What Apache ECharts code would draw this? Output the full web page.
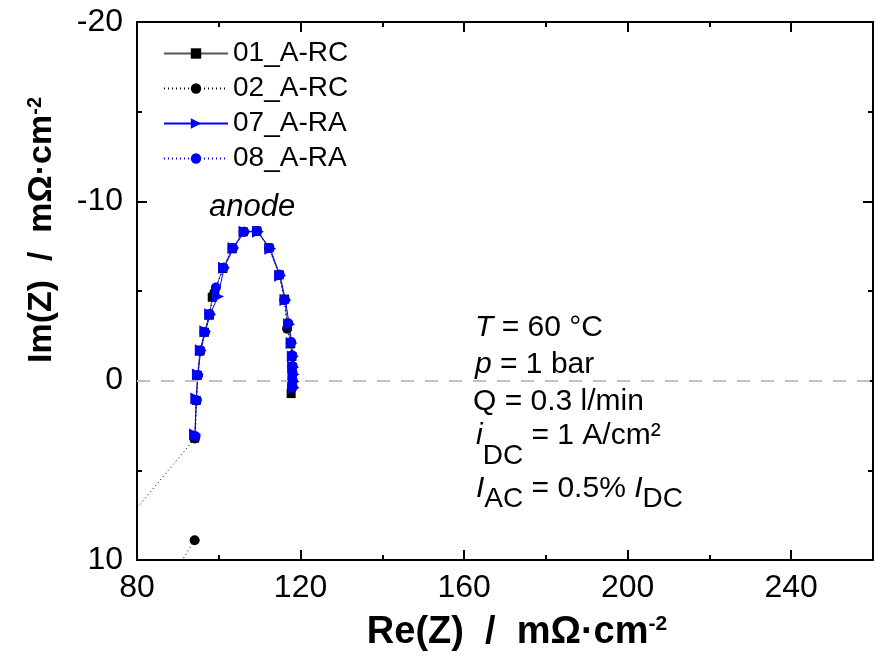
<!DOCTYPE html>
<html>
<head>
<meta charset="utf-8">
<script src="https://cdn.jsdelivr.net/npm/echarts@6/dist/echarts.min.js"></script>
<style>
  html, body { margin: 0; padding: 0; background: #fff; }
  #chart { width: 876px; height: 657px; }
</style>
</head>
<body>
<div id="chart"></div>
<script>
// Nyquist plot of anode impedance spectra (Re vs Im, Im axis inverted)
const FONT = '"Liberation Sans", Arial, Helvetica, sans-serif';

const seriesNames = ['01_A-RC', '02_A-RC', '07_A-RA', '08_A-RA'];

// 01_A-RC
const re01 = [94.1, 94.5, 94.8, 95.4, 96.5, 97.7, 98.4, 101.0, 103.3, 106.0, 109.3, 112.3, 114.8, 116.1, 116.8, 117.6, 117.9, 118.0, 118.0, 117.9, 117.7];
const im01 = [3.2, 1.1, -0.3, -1.65, -2.7, -3.65, -4.65, -6.25, -7.35, -8.3, -8.35, -7.4, -5.9, -4.55, -3.05, -2.05, -1.35, -0.75, -0.3, 0.2, 0.72];

// 02_A-RC (first points lie outside the visible range)
const re02 = [94.1, 76.0, 60.0, 94.15, 94.5, 94.9, 95.5, 96.5, 97.7, 98.9, 101.1, 103.4, 106.1, 109.3, 112.3, 114.8, 116.0, 116.7, 117.6, 117.9, 118.0, 118.0, 117.9];
const im02 = [8.9, 15.5, 12.6, 3.22, 1.1, -0.3, -1.65, -2.7, -3.7, -4.9, -6.3, -7.4, -8.3, -8.35, -7.4, -5.9, -4.5, -2.9, -2.1, -1.4, -0.8, 0.0, 0.4];

// 07_A-RA
const re07 = [94.2, 94.5, 94.9, 95.6, 96.7, 97.9, 99.8, 101.3, 103.6, 106.3, 109.6, 112.6, 115.0, 116.3, 117.2, 117.8, 118.1, 118.2, 118.3, 118.3, 118.3];
const im07 = [3.0, 1.0, -0.35, -1.7, -2.75, -3.7, -4.7, -6.3, -7.4, -8.3, -8.3, -7.35, -5.85, -4.5, -3.15, -2.1, -1.35, -0.75, -0.35, 0.05, 0.4];

// 08_A-RA
const re08 = [94.3, 94.6, 94.9, 95.5, 96.6, 97.8, 99.3, 101.2, 103.5, 106.2, 109.4, 112.4, 114.9, 116.2, 117.0, 117.7, 118.0, 118.05, 118.1, 118.1, 118.1];
const im08 = [3.1, 1.1, -0.3, -1.7, -2.7, -3.7, -5.2, -6.3, -7.4, -8.3, -8.35, -7.4, -5.9, -4.5, -3.2, -2.15, -1.4, -0.8, -0.4, 0.0, 0.35];

// axis ranges and tick steps
const xRange = [80, 260];
const xStep = 40;
const yRange = [-20, 10];
const yStep = 10;

const zip = (xs, ys) => xs.map((x, i) => [x, ys[i]]);

const chart = echarts.init(document.getElementById('chart'), null, { renderer: 'canvas' });

const axisLine = { show: true, onZero: false, lineStyle: { color: '#000', width: 2 } };
const axisTick = { show: true, inside: true, length: 10, lineStyle: { color: '#000', width: 2 } };
const minorTick = { show: true, splitNumber: 2, length: 5, lineStyle: { color: '#000', width: 2 } };

// text block with italic symbols and subscripts, laid out run by run
const ctx = document.createElement('canvas').getContext('2d');
function textLine(x, y, parts) {
  const els = [];
  let cx = x;
  parts.forEach(p => {
    const size = p.sub ? 28 : 30;
    const fs = p.it ? 'italic' : 'normal';
    ctx.font = fs + ' ' + size + 'px ' + FONT;
    els.push({
      type: 'text', x: cx, y: y + (p.dy || 0), silent: true,
      style: { text: p.t, fontSize: size, fontStyle: fs, fontFamily: FONT, fill: '#000', verticalAlign: 'middle', align: 'left' }
    });
    cx += ctx.measureText(p.t).width;
  });
  return els;
}

const conditions = [].concat(
  textLine(475, 328, [{ t: 'T', it: true }, { t: ' = 60 °C' }]),
  textLine(475, 365, [{ t: 'p', it: true }, { t: ' = 1 bar' }]),
  textLine(473, 402, [{ t: 'Q = 0.3 l/min' }]),
  textLine(476, 436, [{ t: 'i', it: true }, { t: 'DC', sub: true, dy: 20 }, { t: ' = 1 A/cm²' }]),
  textLine(476, 489, [{ t: 'I', it: true }, { t: 'AC', sub: true, dy: 10 }, { t: ' = 0.5% ' }, { t: 'I', it: true }, { t: 'DC', sub: true, dy: 10 }])
);

const option = {
  animation: false,
  backgroundColor: '#fff',
  grid: { left: 137, right: 3, top: 22, bottom: 95, containLabel: false },
  legend: {
    orient: 'vertical', left: 158, top: 34,
    itemWidth: 64, itemHeight: 13, itemGap: 6,
    data: seriesNames,
    textStyle: { fontFamily: FONT, fontSize: 28, lineHeight: 29, color: '#000' }
  },
  xAxis: [{
    type: 'value', min: xRange[0], max: xRange[1], interval: xStep,
    position: 'bottom',
    name: 'Re(Z)  /  mΩ·cm{sup|-2}', nameLocation: 'middle', nameGap: 54,
    nameTextStyle: {
      fontFamily: FONT, fontSize: 38, fontWeight: 'bold', color: '#000',
      padding: [0, 0, 0, 24],
      rich: { sup: { fontFamily: FONT, fontSize: 21, fontWeight: 'bold', color: '#000', verticalAlign: 'top' } }
    },
    axisLine, axisTick, minorTick,
    axisLabel: { fontFamily: FONT, fontSize: 32, color: '#000', margin: 12, showMaxLabel: false },
    splitLine: { show: false }
  }, {
    type: 'value', min: xRange[0], max: xRange[1], interval: xStep,
    position: 'top',
    axisLine, axisTick, minorTick,
    axisLabel: { show: false }, splitLine: { show: false }
  }],
  yAxis: [{
    type: 'value', min: yRange[0], max: yRange[1], interval: yStep, inverse: true,
    position: 'left',
    name: 'Im(Z)  /  mΩ·cm{sup|-2}', nameLocation: 'middle', nameGap: 78,
    nameTextStyle: {
      fontFamily: FONT, fontSize: 34, fontWeight: 'bold', color: '#000',
      padding: [0, 0, 0, 122],
      rich: { sup: { fontFamily: FONT, fontSize: 20, fontWeight: 'bold', color: '#000', verticalAlign: 'top' } }
    },
    axisLine, axisTick, minorTick,
    axisLabel: { fontFamily: FONT, fontSize: 32, color: '#000', margin: 14 },
    splitLine: { show: false }
  }, {
    type: 'value', min: yRange[0], max: yRange[1], interval: yStep, inverse: true,
    position: 'right',
    axisLine, axisTick, minorTick,
    axisLabel: { show: false }, splitLine: { show: false }
  }],
  graphic: [
    {
      type: 'text', x: 209, y: 207, silent: true,
      style: { text: 'anode', fontSize: 31, fontStyle: 'italic', fontFamily: FONT, fill: '#000', verticalAlign: 'middle', align: 'left' }
    }
  ].concat(conditions),
  series: [
    {
      name: 'zero', type: 'line', data: [], z: 1, silent: true,
      markLine: {
        silent: true, symbol: 'none', label: { show: false },
        lineStyle: { color: '#c0c0c0', width: 2, type: [13, 11] },
        data: [{ yAxis: 0 }]
      }
    },
    {
      name: seriesNames[0], type: 'line', data: zip(re01, im01), z: 2,
      symbol: 'rect', symbolSize: 9, showAllSymbol: true,
      itemStyle: { color: '#000' },
      lineStyle: { color: '#555', width: 1 }
    },
    {
      name: seriesNames[1], type: 'line', data: zip(re02, im02), z: 3,
      symbol: 'circle', symbolSize: 10, showAllSymbol: true,
      itemStyle: { color: '#000' },
      lineStyle: { color: '#000', width: 1, type: [1, 3] }
    },
    {
      name: seriesNames[2], type: 'line', data: zip(re07, im07), z: 4,
      symbol: 'triangle', symbolRotate: -90, symbolSize: 12, showAllSymbol: true,
      itemStyle: { color: '#0000ff' },
      lineStyle: { color: '#0000ff', width: 1 }
    },
    {
      name: seriesNames[3], type: 'line', data: zip(re08, im08), z: 5,
      symbol: 'circle', symbolSize: 10, showAllSymbol: true,
      itemStyle: { color: '#0000ff' },
      lineStyle: { color: '#0000ff', width: 1, type: [1, 3] }
    }
  ]
};

chart.setOption(option);
</script>
</body>
</html>
